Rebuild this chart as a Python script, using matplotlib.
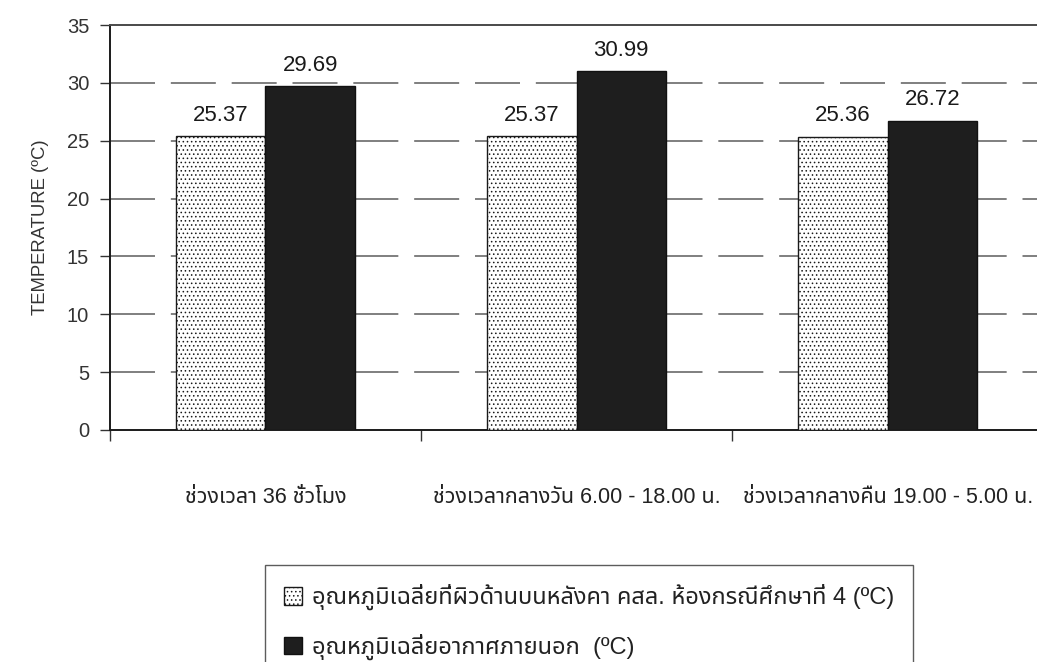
import matplotlib
matplotlib.use("Agg")
import matplotlib.pyplot as plt
from matplotlib import font_manager
from matplotlib.patches import Patch
import numpy as np

# ---- data -------------------------------------------------------------
categories = [
    "ช่วงเวลา 36 ชั่วโมง",
    "ช่วงเวลากลางวัน 6.00 - 18.00 น.",
    "ช่วงเวลากลางคืน 19.00 - 5.00 น.",
]
roof_surface = [25.37, 25.37, 25.36]
outdoor_air = [29.69, 30.99, 26.72]
series_labels = [
    "อุณหภูมิเฉลี่ยที่ผิวด้านบนหลังคา คสล. ห้องกรณีศึกษาที่ 4 (ºC)",
    "อุณหภูมิเฉลี่ยอากาศภายนอก  (ºC)",
]
y_ticks = [0, 5, 10, 15, 20, 25, 30, 35]
y_label = "TEMPERATURE (ºC)"


# ---- fonts: Latin sans plus any installed face that covers Thai -------
def covers_thai(path):
    try:
        from fontTools.ttLib import TTFont
        font = TTFont(path, fontNumber=0, lazy=True)
        return 0x0E0A in font.getBestCmap()
    except Exception:
        return False


thai_faces = []
for entry in font_manager.fontManager.ttflist:
    if entry.name not in thai_faces and covers_thai(entry.fname):
        thai_faces.append(entry.name)
thai_faces.sort(key=lambda n: (0 if "Noto Sans Thai" in n and "Looped" not in n else
                               1 if "Sans" in n else 2, n))
families = ["Liberation Sans"] + thai_faces[:3] + ["DejaVu Sans"]
plt.rcParams["font.family"] = families
plt.rcParams["hatch.linewidth"] = 0.6
plt.rcParams["hatch.color"] = "#8a8a8a"

# ---- figure -----------------------------------------------------------
fig = plt.figure(figsize=(10.37, 6.62), dpi=100)
ax = fig.add_axes([0.106, 0.3505, 0.9, 0.6117])

x = np.arange(len(categories))
width = 0.287

ax.bar(x - width / 2, roof_surface, width, facecolor="white", hatch="....",
       edgecolor="#1a1a1a", linewidth=1.0, zorder=3, label=series_labels[0])
ax.bar(x + width / 2, outdoor_air, width, facecolor="#1e1e1e",
       edgecolor="#111111", linewidth=1.0, zorder=3, label=series_labels[1])

for xi, v in zip(x - width / 2, roof_surface):
    ax.text(xi, v + 0.9, f"{v:.2f}", ha="center", va="bottom", fontsize=16,
            color="#1a1a1a")
for xi, v in zip(x + width / 2, outdoor_air):
    ax.text(xi, v + 0.9, f"{v:.2f}", ha="center", va="bottom", fontsize=16,
            color="#1a1a1a")

ax.set_xlim(-0.5, len(categories) - 0.5)
ax.set_ylim(0, 35)
ax.set_yticks(y_ticks)
ax.set_yticklabels([str(t) for t in y_ticks], fontsize=14.5, color="#333333")

# horizontal dashed grid
for t in y_ticks[1:-1]:
    ax.axhline(t, color="#6a6a6a", linewidth=1.2, linestyle=(0, (27, 9.5)),
               zorder=1)

# category labels centred, tick marks on category boundaries
ax.set_xticks(x)
ax.set_xticklabels(categories, fontsize=15.5, color="#222222")
ax.tick_params(axis="x", which="major", length=0, pad=41)
ax.set_xticks(np.arange(len(categories) + 1) - 0.5, minor=True)
ax.tick_params(axis="x", which="minor", length=8, width=1.0, color="#333333",
               direction="out")
ax.tick_params(axis="y", length=7, width=1.0, color="#333333", pad=8)

for side in ("left", "bottom"):
    ax.spines[side].set_color("#1a1a1a")
    ax.spines[side].set_linewidth(1.4)
ax.spines["top"].set_color("#4a4a4a")
ax.spines["top"].set_linewidth(1.4)
ax.spines["right"].set_visible(False)

ax.set_ylabel(y_label, fontsize=13.3, color="#333333", labelpad=13)

handles = [
    Patch(facecolor="white", hatch="....", edgecolor="#1a1a1a", linewidth=1.0),
    Patch(facecolor="#1e1e1e", edgecolor="#111111", linewidth=1.0),
]
leg = fig.legend(handles, series_labels, loc="upper left",
                 bbox_to_anchor=(265 / 1037, 1 - 565 / 662),
                 fontsize=17, frameon=True, fancybox=False, edgecolor="#333333",
                 handlelength=0.78, handleheight=0.78, handletextpad=0.4,
                 labelspacing=1.0, borderpad=0.8, borderaxespad=0)
leg.get_frame().set_linewidth(1.0)
for t in leg.get_texts():
    t.set_color("#222222")

fig.savefig("out.png", dpi=100, facecolor="white")
